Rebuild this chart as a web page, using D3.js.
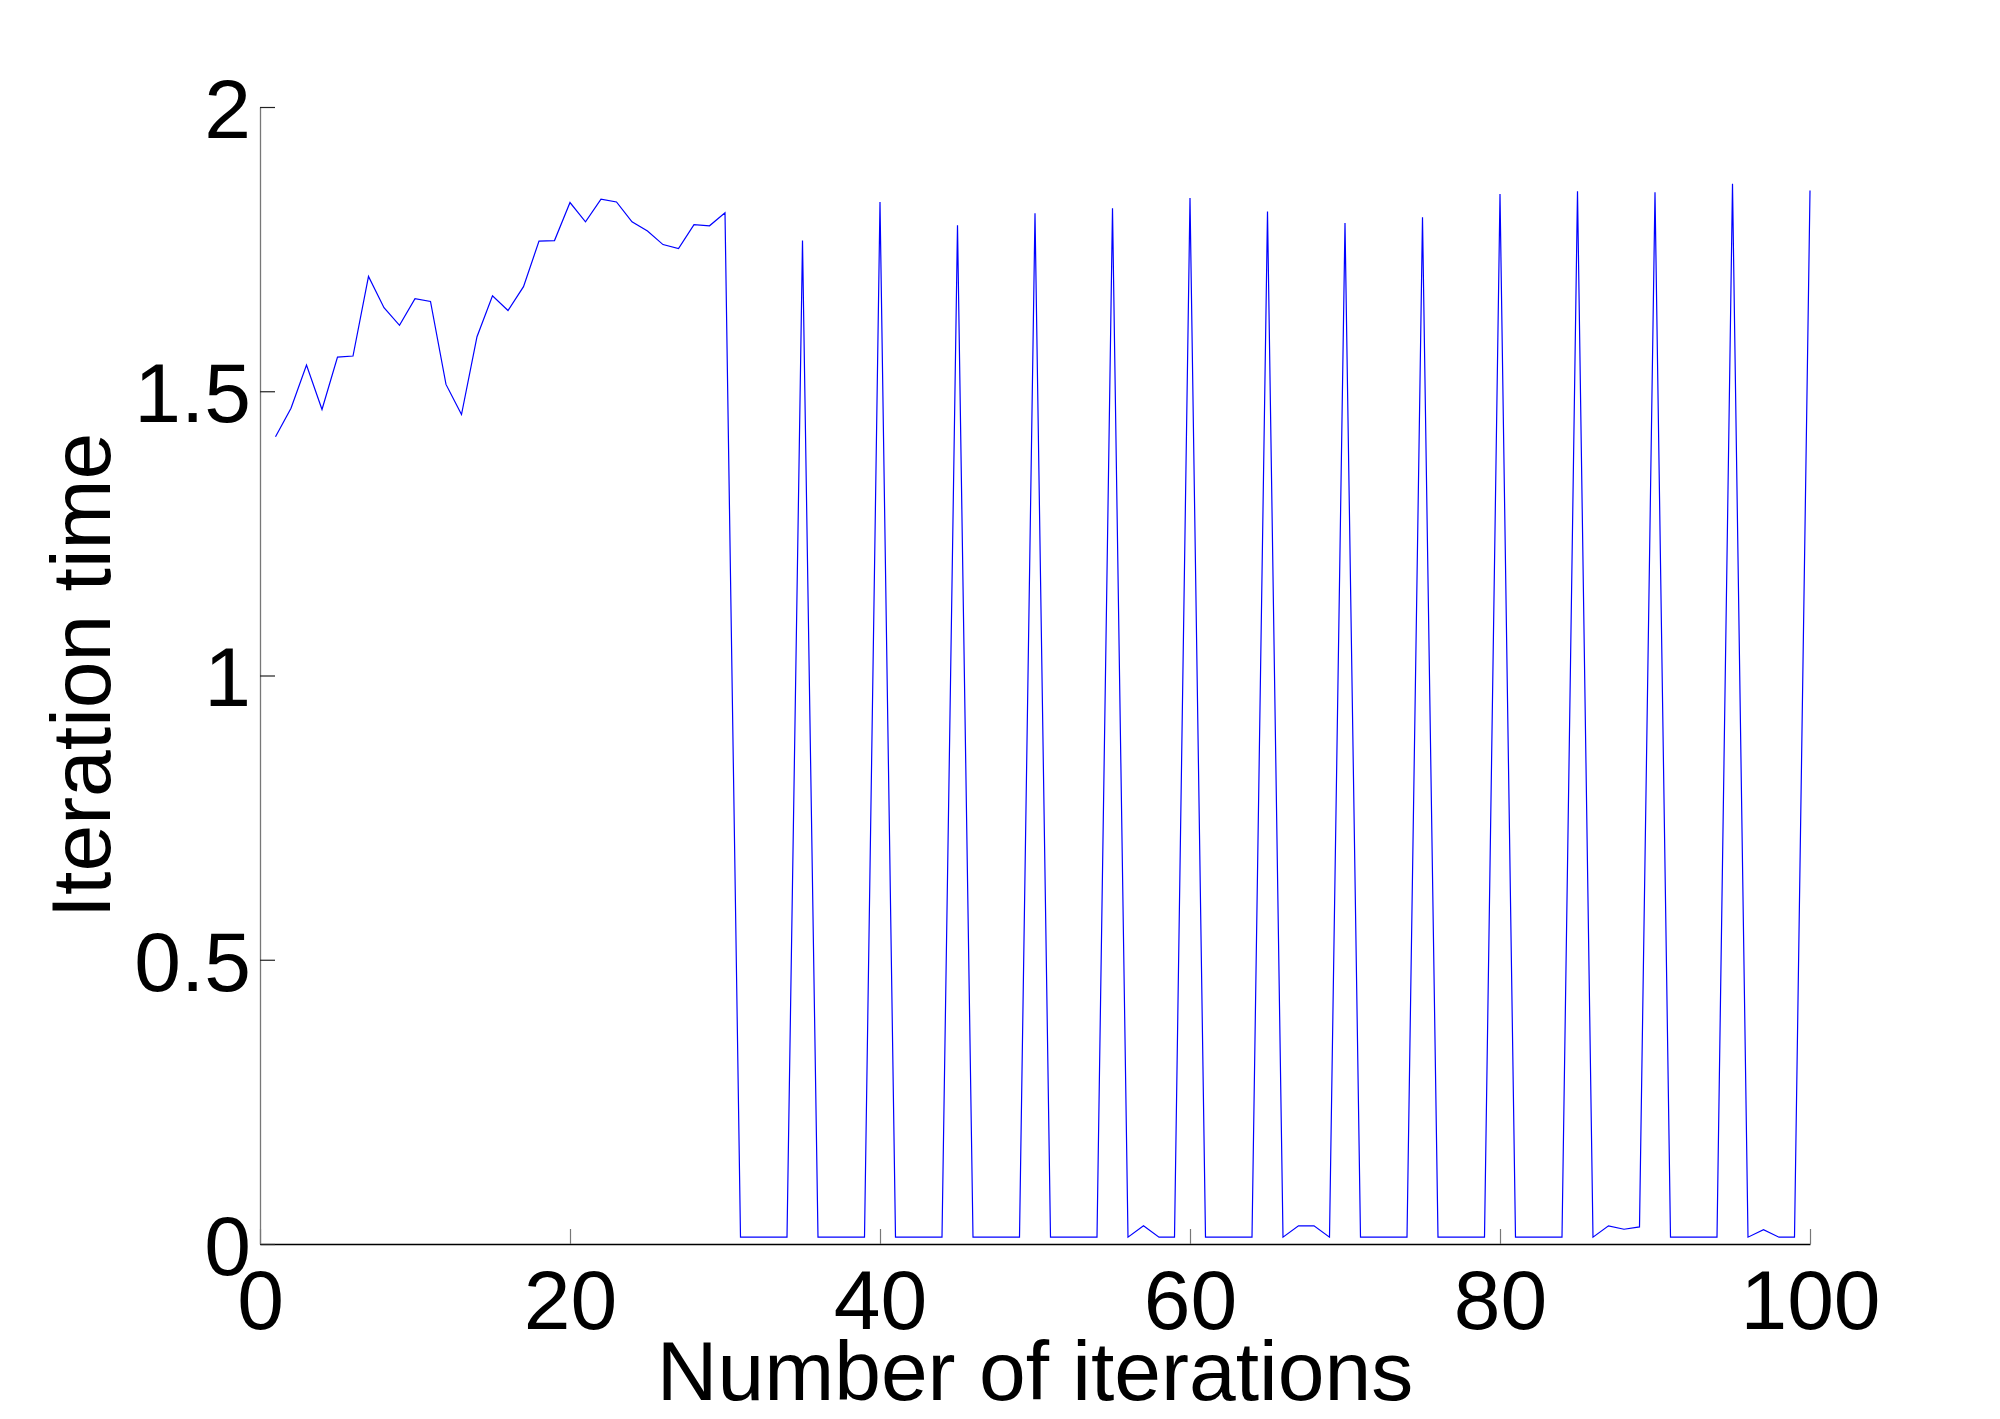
<!DOCTYPE html>
<html>
<head>
<meta charset="utf-8">
<script src="https://cdn.jsdelivr.net/npm/d3@7"></script>
<style>
  html, body { margin: 0; padding: 0; background: #fff; }
  svg { display: block; }
  text { font-family: "Liberation Sans", Arial, Helvetica, sans-serif; fill: #000; }
</style>
</head>
<body>
<svg id="chart" width="2000" height="1419"></svg>
<script>
// ---- data ----
const iterationTime = [
  1.420, 1.470, 1.546, 1.468, 1.560, 1.562, 1.702, 1.647, 1.616, 1.663,
  1.658, 1.512, 1.459, 1.596, 1.668, 1.642, 1.684, 1.764, 1.765, 1.832,
  1.798, 1.838, 1.833, 1.798, 1.782, 1.758, 1.751, 1.793, 1.791, 1.814,
  0.012, 0.012, 0.012, 0.012, 1.765, 0.012, 0.012, 0.012, 0.012, 1.833,
  0.012, 0.012, 0.012, 0.012, 1.792, 0.012, 0.012, 0.012, 0.012, 1.813,
  0.012, 0.012, 0.012, 0.012, 1.822, 0.012, 0.032, 0.012, 0.012, 1.840,
  0.012, 0.012, 0.012, 0.012, 1.816, 0.012, 0.032, 0.032, 0.012, 1.796,
  0.012, 0.012, 0.012, 0.012, 1.806, 0.012, 0.012, 0.012, 0.012, 1.847,
  0.012, 0.012, 0.012, 0.012, 1.852, 0.012, 0.032, 0.026, 0.030, 1.850,
  0.012, 0.012, 0.012, 0.012, 1.865, 0.012, 0.025, 0.012, 0.012, 1.853
];
const xTickValues = [0, 20, 40, 60, 80, 100];
const xTickLabels = ["0", "20", "40", "60", "80", "100"];
const yTickValues = [0, 0.5, 1, 1.5, 2];
const yTickLabels = ["0", "0.5", "1", "1.5", "2"];
const xLabel = "Number of iterations";
const yLabel = "Iteration time";

// ---- layout ----
const svg = d3.select("#chart");
svg.append("rect").attr("width", 2000).attr("height", 1419).attr("fill", "#fff");

const x = d3.scaleLinear().domain([0, 100]).range([260, 1810]);
const y = d3.scaleLinear().domain([0, 2]).range([1244, 107]);

const fontSize = 84;

// x axis
const xAxis = d3.axisBottom(x)
  .tickValues(xTickValues)
  .tickFormat((d, i) => xTickLabels[i])
  .tickSizeInner(-15)
  .tickSizeOuter(0)
  .tickPadding(25);
const gx = svg.append("g").attr("transform", `translate(0,${y(0)})`).call(xAxis);
gx.select(".domain").attr("stroke", "#000").attr("stroke-width", 1.3);
gx.selectAll(".tick line").attr("stroke", "#777").attr("stroke-width", 1.2);
gx.selectAll(".tick text").attr("font-size", fontSize).attr("fill", "#000")
  .style("font-family", '"Liberation Sans", Arial, Helvetica, sans-serif');

// y axis
const yAxis = d3.axisLeft(y)
  .tickValues(yTickValues)
  .tickFormat((d, i) => yTickLabels[i])
  .tickSizeInner(-15)
  .tickSizeOuter(0)
  .tickPadding(9);
const gy = svg.append("g").attr("transform", `translate(${x(0)},0)`).call(yAxis);
gy.select(".domain").attr("stroke", "#777").attr("stroke-width", 1.3);
gy.selectAll(".tick line").attr("stroke", "#222").attr("stroke-width", 1.2);
gy.selectAll(".tick text").attr("font-size", fontSize).attr("fill", "#000").attr("dy", "0.36em")
  .style("font-family", '"Liberation Sans", Arial, Helvetica, sans-serif');

// line
const line = d3.line()
  .x((d, i) => x(i + 1))
  .y(d => y(d));
svg.append("path")
  .datum(iterationTime)
  .attr("fill", "none")
  .attr("stroke", "#0000ff")
  .attr("stroke-width", 1.2)
  .attr("stroke-linejoin", "miter")
  .attr("d", line);

// axis labels
svg.append("text")
  .attr("x", (x(0) + x(100)) / 2)
  .attr("y", 1400)
  .attr("text-anchor", "middle")
  .attr("font-size", fontSize)
  .text(xLabel);

svg.append("text")
  .attr("transform", `translate(110,${(y(0) + y(2)) / 2}) rotate(-90)`)
  .attr("text-anchor", "middle")
  .attr("font-size", fontSize)
  .text(yLabel);
</script>
</body>
</html>
